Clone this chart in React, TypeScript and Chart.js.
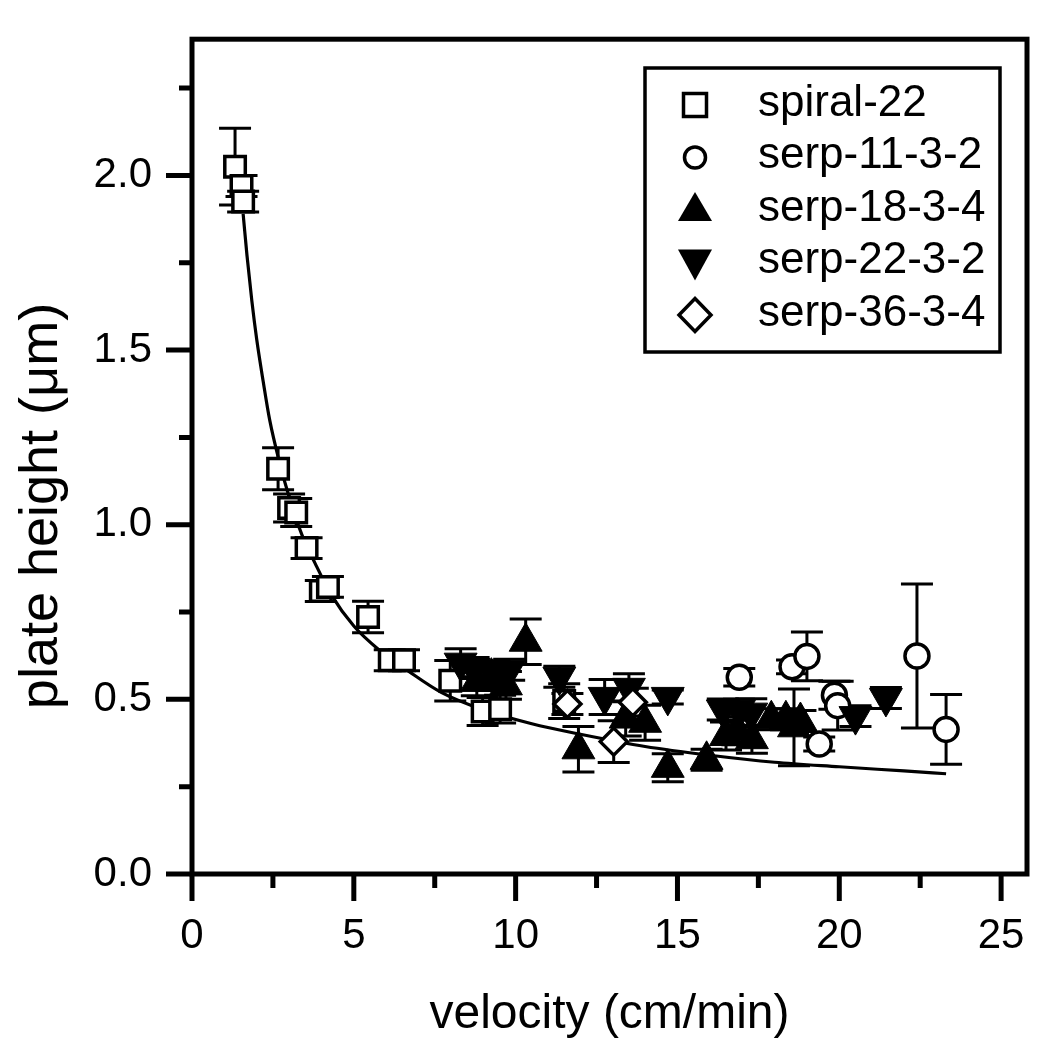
import React, { useEffect, useRef } from 'react';
import { Chart, registerables } from 'chart.js';

Chart.register(...registerables);

const FONT = "'Liberation Sans', Arial, sans-serif";

// axis ticks
const X_TICKS = [0, 5, 10, 15, 20, 25];
const X_MINOR = [2.5, 7.5, 12.5, 17.5, 22.5];
const Y_TICKS = [0, 0.5, 1.0, 1.5, 2.0];
const Y_MINOR = [0.25, 0.75, 1.25, 1.75, 2.25];

// spiral-22 (open squares)
const SPIRAL_X = [1.33, 1.53, 1.58, 2.66, 3.0, 3.22, 3.54, 3.98, 4.2, 5.44, 6.11, 6.55, 7.98, 8.98, 9.52, 11.5];
const SPIRAL_Y = [2.025, 1.97, 1.925, 1.16, 1.048, 1.035, 0.933, 0.81, 0.822, 0.736, 0.612, 0.612, 0.553, 0.465, 0.472, 0.495];
const SPIRAL_ERR = [0.11, 0.03, 0.03, 0.06, 0.04, 0.04, 0.03, 0.03, 0.03, 0.045, 0.03, 0.03, 0.058, 0.04, 0.04, 0.05];

// serp-11-3-2 (open circles)
const CIRC_X = [16.91, 18.54, 19.0, 19.38, 19.85, 19.95, 22.4, 23.3];
const CIRC_Y = [0.563, 0.593, 0.623, 0.372, 0.512, 0.482, 0.624, 0.414];
const CIRC_ERR = [0.025, 0.02, 0.07, 0.02, 0.04, 0.07, 0.206, 0.1];

// serp-18-3-4 (filled up triangles)
const UP_X = [8.8, 9.25, 9.7, 10.31, 11.94, 13.4, 14.0, 14.7, 15.9, 16.5, 16.85, 17.3, 17.9, 18.35, 18.6, 18.8];
const UP_Y = [0.55, 0.565, 0.54, 0.665, 0.357, 0.445, 0.433, 0.304, 0.327, 0.395, 0.41, 0.386, 0.443, 0.443, 0.42, 0.438];
const UP_ERR = [0.04, 0.04, 0.04, 0.065, 0.065, 0.05, 0.05, 0.04, 0.03, 0.04, 0.04, 0.04, 0.03, 0.03, 0.11, 0.03];

// serp-22-3-2 (filled down triangles)
const DOWN_X = [8.3, 8.7, 9.3, 9.8, 11.35, 12.75, 13.5, 14.7, 16.4, 16.9, 17.28, 20.5, 21.44];
const DOWN_Y = [0.605, 0.59, 0.58, 0.585, 0.565, 0.507, 0.533, 0.507, 0.471, 0.47, 0.462, 0.452, 0.504];
const DOWN_ERR = [0.04, 0.03, 0.03, 0.03, 0.03, 0.05, 0.04, 0.02, 0.03, 0.03, 0.04, 0.03, 0.03];

// serp-36-3-4 (open diamonds)
const DIAM_X = [11.6, 13.03, 13.62];
const DIAM_Y = [0.487, 0.379, 0.492];
const DIAM_ERR = [0.03, 0.06, 0.04];

// fitted curve
const FIT_X = [1.58, 1.7, 1.85, 2.0, 2.2, 2.4, 2.7, 3.0, 3.4, 3.8, 4.3, 5.0, 5.8, 6.7, 7.7, 9.0, 10.5, 12.0, 14.0, 16.0, 18.0, 20.0, 22.0, 23.3];
const FIT_Y = [1.89, 1.77, 1.64, 1.53, 1.41, 1.3, 1.18, 1.08, 0.97, 0.89, 0.8, 0.71, 0.64, 0.58, 0.52, 0.47, 0.43, 0.4, 0.365, 0.34, 0.32, 0.307, 0.295, 0.287];

const LEGEND_LABELS = ['spiral-22', 'serp-11-3-2', 'serp-18-3-4', 'serp-22-3-2', 'serp-36-3-4'];
const Y_TITLE = 'plate height (\u03bcm)';
const X_TITLE = 'velocity (cm/min)';

const mk = (xs: number[], ys: number[]) => xs.map((x, i) => ({ x, y: ys[i] }));

const errorBarPlugin = {
  id: 'errorBars',
  beforeDatasetsDraw(chart: any) {
    const { ctx, scales } = chart;
    const xs = scales.x;
    const ys = scales.y;
    ctx.save();
    ctx.strokeStyle = '#000';
    ctx.lineWidth = 3;
    chart.data.datasets.forEach((ds: any) => {
      const errs: number[] | undefined = ds.errors;
      if (!errs) return;
      ds.data.forEach((p: any, j: number) => {
        const e = errs[j];
        if (!e) return;
        const px = xs.getPixelForValue(p.x);
        const top = ys.getPixelForValue(p.y + e);
        const bot = ys.getPixelForValue(p.y - e);
        ctx.beginPath();
        ctx.moveTo(px, top);
        ctx.lineTo(px, bot);
        ctx.moveTo(px - 16, top);
        ctx.lineTo(px + 16, top);
        ctx.moveTo(px - 16, bot);
        ctx.lineTo(px + 16, bot);
        ctx.stroke();
      });
    });
    ctx.restore();
  },
};

const framePlugin = {
  id: 'frameTicks',
  afterDraw(chart: any) {
    const { ctx, chartArea, scales } = chart;
    const { left, right, top, bottom } = chartArea;
    ctx.save();
    ctx.strokeStyle = '#000';
    ctx.lineWidth = 5;
    ctx.strokeRect(left, top, right - left, bottom - top);
    ctx.lineCap = 'butt';
    ctx.lineWidth = 5;
    ctx.beginPath();
    X_TICKS.forEach((v) => {
      const px = scales.x.getPixelForValue(v);
      ctx.moveTo(px, bottom);
      ctx.lineTo(px, bottom + 27);
    });
    X_MINOR.forEach((v) => {
      const px = scales.x.getPixelForValue(v);
      ctx.moveTo(px, bottom);
      ctx.lineTo(px, bottom + 14);
    });
    Y_TICKS.forEach((v) => {
      const py = scales.y.getPixelForValue(v);
      ctx.moveTo(left, py);
      ctx.lineTo(left - 26, py);
    });
    Y_MINOR.forEach((v) => {
      const py = scales.y.getPixelForValue(v);
      ctx.moveTo(left, py);
      ctx.lineTo(left - 13, py);
    });
    ctx.stroke();

    // y axis title
    ctx.translate(42, 506);
    ctx.rotate(-Math.PI / 2);
    ctx.fillStyle = '#000';
    ctx.font = `54px ${FONT}`;
    ctx.textAlign = 'center';
    ctx.textBaseline = 'middle';
    ctx.fillText(Y_TITLE, 0, 0);
    ctx.restore();
  },
};

const legendPlugin = {
  id: 'customLegend',
  afterDraw(chart: any) {
    const ctx = chart.ctx;
    const bx = 645, by = 68, bw = 355, bh = 284;
    ctx.save();
    ctx.fillStyle = '#fff';
    ctx.fillRect(bx, by, bw, bh);
    ctx.strokeStyle = '#000';
    ctx.lineWidth = 3.5;
    ctx.strokeRect(bx, by, bw, bh);
    const mx = 695;
    const tx = 758;
    const base0 = 115.5;
    const step = 52.5;
    ctx.font = `44px ${FONT}`;
    ctx.textBaseline = 'alphabetic';
    ctx.textAlign = 'left';
    LEGEND_LABELS.forEach((label, i) => {
      const base = base0 + i * step;
      const cy = base - 10.5;
      ctx.fillStyle = '#000';
      ctx.fillText(label, tx, base);
      ctx.lineWidth = 3.5;
      ctx.beginPath();
      if (i === 0) {
        ctx.rect(mx - 11.5, cy - 11.5, 23, 23);
        ctx.fillStyle = '#fff';
        ctx.fill();
        ctx.stroke();
      } else if (i === 1) {
        ctx.arc(mx, cy, 10.5, 0, Math.PI * 2);
        ctx.fillStyle = '#fff';
        ctx.fill();
        ctx.stroke();
      } else if (i === 2) {
        ctx.moveTo(mx, cy - 18);
        ctx.lineTo(mx + 17, cy + 11);
        ctx.lineTo(mx - 17, cy + 11);
        ctx.closePath();
        ctx.fillStyle = '#000';
        ctx.fill();
      } else if (i === 3) {
        ctx.moveTo(mx - 17, cy - 13);
        ctx.lineTo(mx + 17, cy - 13);
        ctx.lineTo(mx, cy + 18);
        ctx.closePath();
        ctx.fillStyle = '#000';
        ctx.fill();
      } else {
        ctx.moveTo(mx, cy - 16.5);
        ctx.lineTo(mx + 16, cy);
        ctx.lineTo(mx, cy + 16.5);
        ctx.lineTo(mx - 16, cy);
        ctx.closePath();
        ctx.fillStyle = '#fff';
        ctx.fill();
        ctx.stroke();
      }
    });
    ctx.restore();
  },
};

export default function App() {
  const ref = useRef<HTMLCanvasElement>(null);
  useEffect(() => {
    if (!ref.current) return;
    const chart = new Chart(ref.current, {
      type: 'scatter',
      data: {
        datasets: [
          {
            label: 'serp-36-3-4',
            data: mk(DIAM_X, DIAM_Y),
            errors: DIAM_ERR,
            pointStyle: 'rectRot',
            pointRadius: 13.5,
            pointBorderWidth: 3.5,
            pointBackgroundColor: '#fff',
            pointBorderColor: '#000',
            order: 1,
          } as any,
          {
            label: 'serp-22-3-2',
            data: mk(DOWN_X, DOWN_Y),
            errors: DOWN_ERR,
            pointStyle: 'triangle',
            pointRotation: 180,
            pointRadius: 19,
            pointBorderWidth: 1,
            pointBackgroundColor: '#000',
            pointBorderColor: '#000',
            order: 2,
          } as any,
          {
            label: 'serp-18-3-4',
            data: mk(UP_X, UP_Y),
            errors: UP_ERR,
            pointStyle: 'triangle',
            pointRadius: 19,
            pointBorderWidth: 1,
            pointBackgroundColor: '#000',
            pointBorderColor: '#000',
            order: 3,
          } as any,
          {
            label: 'serp-11-3-2',
            data: mk(CIRC_X, CIRC_Y),
            errors: CIRC_ERR,
            pointStyle: 'circle',
            pointRadius: 12,
            pointBorderWidth: 3.5,
            pointBackgroundColor: '#fff',
            pointBorderColor: '#000',
            order: 4,
          } as any,
          {
            label: 'spiral-22',
            data: mk(SPIRAL_X, SPIRAL_Y),
            errors: SPIRAL_ERR,
            pointStyle: 'rect',
            pointRadius: 14.5,
            pointBorderWidth: 3.5,
            pointBackgroundColor: '#fff',
            pointBorderColor: '#000',
            order: 5,
          } as any,
          {
            label: 'fit',
            data: mk(FIT_X, FIT_Y),
            showLine: true,
            pointRadius: 0,
            borderColor: '#000',
            borderWidth: 3.2,
            cubicInterpolationMode: 'monotone',
            order: 10,
          } as any,
        ],
      },
      options: {
        responsive: false,
        animation: false,
        events: [],
        layout: { padding: { left: 0, top: 37, right: 23, bottom: 0 } },
        plugins: {
          legend: { display: false },
          tooltip: { enabled: false },
        },
        scales: {
          x: {
            type: 'linear',
            min: 0,
            max: 25.8,
            afterBuildTicks: (s: any) => {
              s.ticks = X_TICKS.map((v) => ({ value: v }));
            },
            afterFit: (s: any) => {
              s.height = 176;
            },
            grid: { display: false, drawTicks: true, tickLength: 27 },
            border: { display: false },
            ticks: {
              font: { family: FONT, size: 42 },
              color: '#000',
              padding: 10,
              maxRotation: 0,
              autoSkip: false,
              callback: (v: any) => String(v),
            },
            title: {
              display: true,
              text: X_TITLE,
              font: { family: FONT, size: 48 },
              color: '#000',
              padding: { top: 0, bottom: 6 },
            },
          },
          y: {
            type: 'linear',
            min: 0,
            max: 2.39,
            afterBuildTicks: (s: any) => {
              s.ticks = Y_TICKS.map((v) => ({ value: v }));
            },
            afterFit: (s: any) => {
              s.width = 192;
            },
            grid: { display: false, drawTicks: true, tickLength: 26 },
            border: { display: false },
            ticks: {
              font: { family: FONT, size: 42 },
              color: '#000',
              padding: 14,
              autoSkip: false,
              callback: (v: any) => Number(v).toFixed(1),
            },
            title: { display: false },
          },
        },
      } as any,
      plugins: [errorBarPlugin, framePlugin, legendPlugin],
    });
    return () => chart.destroy();
  }, []);

  return (
    <div style={{ position: 'fixed', left: 0, top: 0, width: 1050, height: 1050, background: '#fff' }}>
      <canvas ref={ref} width={1050} height={1050} style={{ width: 1050, height: 1050, display: 'block' }} />
    </div>
  );
}
